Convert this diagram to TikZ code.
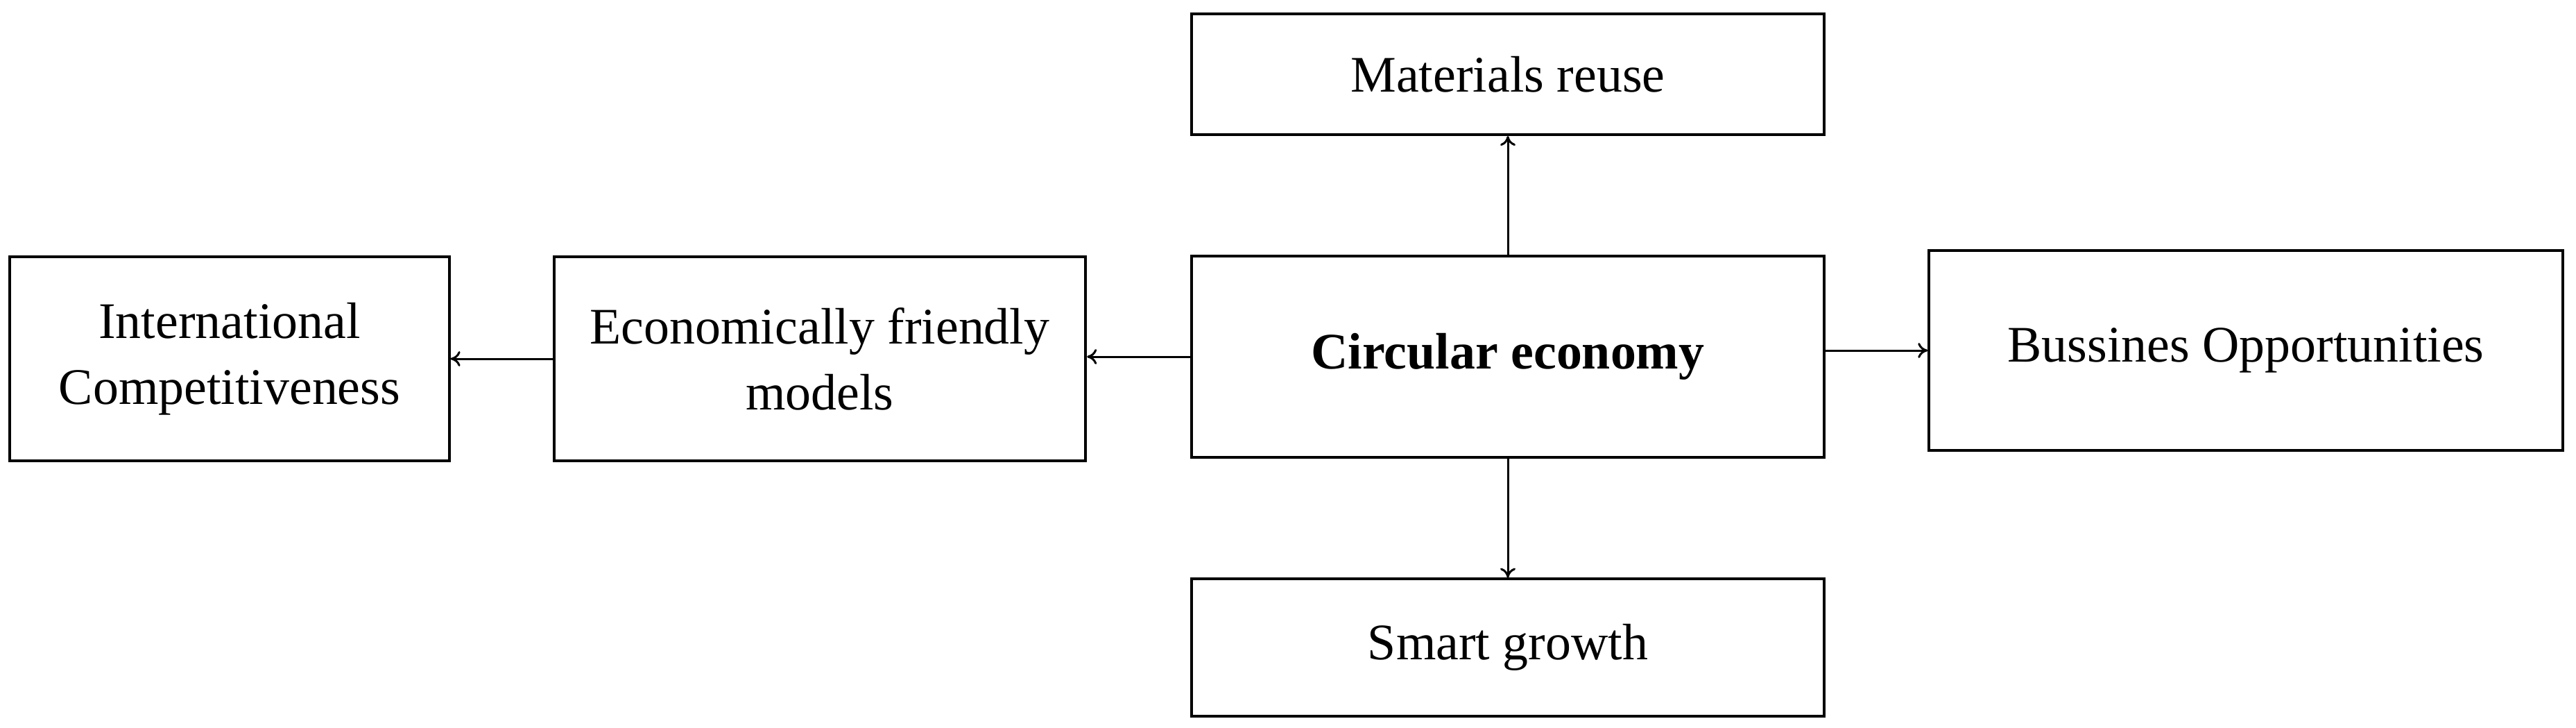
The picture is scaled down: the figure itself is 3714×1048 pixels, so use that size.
\documentclass[tikz,border=0pt]{standalone}
\usepackage{fontspec}
\setmainfont{Liberation Serif}
\usetikzlibrary{arrows.meta}
\begin{document}
\begin{tikzpicture}[x=0.01cm, y=-0.01cm,
   box/.style={draw, line width=0.04cm, inner sep=0pt, align=center,
     font=\fontsize{21}{27}\selectfont},
   arr/.style={-{To[length=0.14cm, width=0.22cm]}, line width=0.03cm}]
   \useasboundingbox (0,0) rectangle (3714,1048);
   % centre column
   \node[box, font=\fontsize{21}{27}\selectfont\bfseries,
     minimum width=9.12cm, minimum height=2.89cm] (circ) at (2174,514) {Circular economy};
   \node[box, minimum width=9.12cm, minimum height=1.74cm] (mat) at (2174,107) {Materials reuse};
   \node[box, minimum width=9.12cm, minimum height=1.97cm] (smart) at (2174,933) {Smart growth};
   % left and right
   \node[box, minimum width=7.66cm, minimum height=2.93cm] (econ) at (1182,517) {Economically friendly\\models};
   \node[box, minimum width=6.33cm, minimum height=2.93cm] (intl) at (331,517) {International\\Competitiveness};
   \node[box, minimum width=9.13cm, minimum height=2.88cm] (bus) at (3238,505) {Bussines Opportunities};
   \draw[arr] (circ.north) -- (mat.south);
   \draw[arr] (circ.south) -- (smart.north);
   \draw[arr] (circ.east |- bus.west) -- (bus.west);
   \draw[arr] (circ.west) -- (circ.west -| econ.east);
   \draw[arr] (econ.west) -- (intl.east);
\end{tikzpicture}
\end{document}
